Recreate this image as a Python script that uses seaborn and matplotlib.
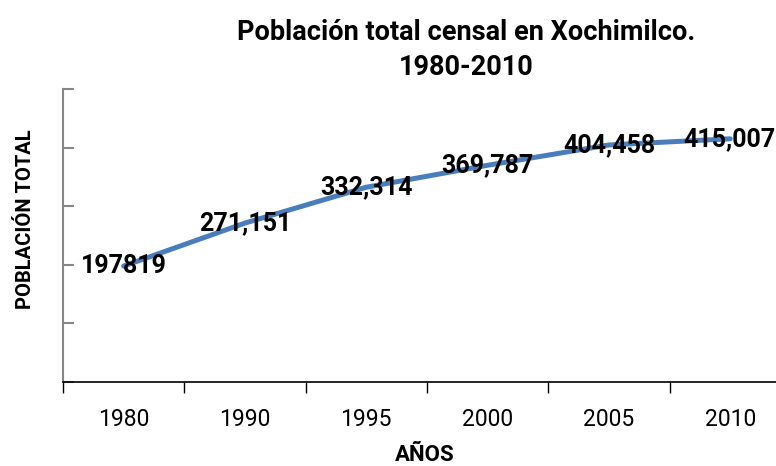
import numpy as np
import pandas as pd
import seaborn as sns
import matplotlib
matplotlib.use("Agg")
import matplotlib.pyplot as plt

# data
years = ["1980", "1990", "1995", "2000", "2005", "2010"]
population = [197819, 271151, 332314, 369787, 404458, 415007]
point_labels = ["197819", "271,151", "332,314", "369,787", "404,458", "415,007"]

df = pd.DataFrame({"pos": np.arange(len(years)), "year": years, "pop": population})

sns.set_theme(style="white")
plt.rcParams["font.family"] = ["Roboto", "DejaVu Sans"]
plt.rcParams["text.color"] = "black"
plt.rcParams["xtick.color"] = "black"

fig = plt.figure(figsize=(7.76, 4.66), dpi=100)
ax = fig.add_axes([0.0812, 0.1803, 0.938, 0.6288])

sns.lineplot(data=df, x="pos", y="pop", color="#4a7ebb", linewidth=3.6,
             solid_capstyle="round", ax=ax)

# data labels centred on the points (last one kept inside the figure)
for x, y, lab in zip(df["pos"], df["pop"], point_labels):
    ha = "center" if x < len(years) - 1 else "right"
    xt = x if x < len(years) - 1 else x + 0.37
    ax.text(xt, y, lab, ha=ha, va="center", fontsize=18,
            fontweight="bold", color="black")

ax.set_xlim(-0.5, len(years) - 0.5)
ax.set_ylim(0, 500000)

# category labels centred, tick marks between categories
ax.set_xticks(df["pos"])
ax.set_xticklabels(years, fontsize=16.5, color="black")
ax.set_xticks(np.arange(-0.5, len(years)), minor=True)
ax.tick_params(axis="x", which="major", length=0, pad=19)
ax.tick_params(axis="x", which="minor", length=8, width=1, color="black",
               direction="out", bottom=True)

ax.set_yticks(np.arange(0, 500001, 100000))
ax.set_yticklabels([])
ax.tick_params(axis="y", length=8, width=1.5, color="#868686", direction="in", left=True)

for side in ["top", "right"]:
    ax.spines[side].set_visible(False)
ax.spines["left"].set_color("#868686")
ax.spines["left"].set_linewidth(1.5)
ax.spines["bottom"].set_color("black")
ax.spines["bottom"].set_linewidth(1.2)

ax.set_xlabel("")
ax.set_ylabel("")
fig.text(425 / 776, 1 - 455 / 466, "AÑOS", ha="center", va="center",
         fontsize=16, fontweight="bold")
fig.text(26 / 776, 1 - 219 / 466, "POBLACIÓN TOTAL", ha="center", va="center",
         rotation=90, fontsize=14.5, fontweight="bold")
fig.text(466 / 776, 1 - 50 / 466, "Población total censal en Xochimilco.\n1980-2010",
         ha="center", va="center", fontsize=19.5, fontweight="bold", linespacing=1.35)

fig.savefig("out.png", dpi=100)
